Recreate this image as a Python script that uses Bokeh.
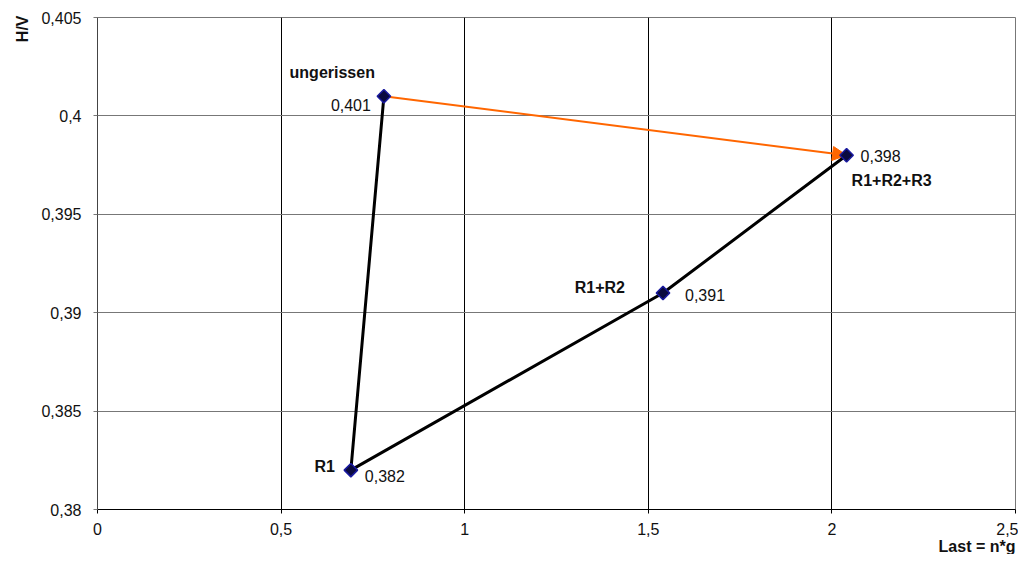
import math
from bokeh.plotting import figure
from bokeh.models import (Range1d, FixedTicker, CustomJSTickFormatter, Label, Arrow,
                          NormalHead, Title)
from bokeh.embed import file_html
from bokeh.resources import INLINE

# ---- data ----
names = ["ungerissen", "R1", "R1+R2", "R1+R2+R3"]
last = [0.78, 0.69, 1.54, 2.04]
hv = [0.401, 0.382, 0.391, 0.398]
x_ticks = [0, 0.5, 1, 1.5, 2, 2.5]
y_ticks = [0.38, 0.385, 0.39, 0.395, 0.4, 0.405]
x_title = "Last = n*g"
y_title = "H/V"

# ---- styles ----
FONT = "Liberation Sans"
FS = "16px"
ORANGE = "#FF6600"
TXT = "#111111"

# label placement per point (screen px offsets), name label and value label
name_pos = [dict(x_offset=-9, y_offset=24, text_align="right"),
            dict(x_offset=-16, y_offset=4, text_align="right"),
            dict(x_offset=-38, y_offset=6, text_align="right"),
            dict(x_offset=5, y_offset=-25, text_align="left")]
value_pos = [dict(x_offset=-13, y_offset=-9, text_align="right"),
             dict(x_offset=14, y_offset=-6, text_align="left"),
             dict(x_offset=22, y_offset=-2, text_align="left"),
             dict(x_offset=14, y_offset=-1, text_align="left")]

p = figure(width=1018, height=554, output_backend="svg", toolbar_location=None,
           x_range=Range1d(x_ticks[0], x_ticks[-1]),
           y_range=Range1d(y_ticks[0], y_ticks[-1]),
           min_border_left=97, min_border_right=3, min_border_top=17, min_border_bottom=45,
           background_fill_color="white", border_fill_color="white")

p.outline_line_color = "#777777"
p.outline_line_width = 1

fmt = CustomJSTickFormatter(code="return String(tick).replace('.', ',');")
for ax, ticks in ((p.xaxis[0], x_ticks), (p.yaxis[0], y_ticks)):
    ax.ticker = FixedTicker(ticks=ticks)
    ax.formatter = fmt
    ax.major_label_text_font = FONT
    ax.major_label_text_font_size = FS
    ax.major_label_text_color = TXT
    ax.minor_tick_line_color = None
    ax.major_tick_in = 0
    ax.major_tick_out = 4
p.xaxis.major_label_standoff = 9
p.yaxis.major_label_standoff = 12
p.xaxis.axis_line_color = "black"
p.xaxis.major_tick_line_color = "black"
p.yaxis.axis_line_color = "#444444"
p.yaxis.major_tick_line_color = "#777777"

p.xgrid.ticker = FixedTicker(ticks=x_ticks)
p.ygrid.ticker = FixedTicker(ticks=y_ticks)
p.xgrid.grid_line_color = "black"
p.ygrid.grid_line_color = "#777777"
p.grid.grid_line_width = 1

# axis titles: y title at the top of the left side, x title at the right of the bottom
p.add_layout(Title(text=y_title, align="right", text_font=FONT, text_font_size=FS,
                   text_font_style="bold", text_color=TXT, standoff=15, offset=-2), "left")
p.add_layout(Title(text=x_title, align="right", text_font=FONT, text_font_size=FS,
                   text_font_style="bold", text_color=TXT, standoff=-4), "below")

# orange arrow from first to last point
arrow = Arrow(end=NormalHead(size=14, fill_color=ORANGE, line_color=ORANGE),
              x_start=last[0], y_start=hv[0], x_end=last[3], y_end=hv[3],
              line_color=ORANGE, line_width=2, level="underlay")
p.add_layout(arrow)

p.line(last, hv, line_color="black", line_width=3)
p.scatter(last, hv, marker="square", size=9.5, angle=math.pi / 4,
          fill_color="#0a0a40", line_color="#1a1aa0", line_width=1.5)

for i in range(len(names)):
    p.add_layout(Label(x=last[i], y=hv[i], text=names[i], text_font=FONT,
                       text_font_size=FS, text_font_style="bold", text_color=TXT,
                       text_baseline="middle", **name_pos[i]))
    p.add_layout(Label(x=last[i], y=hv[i], text=f"{hv[i]:.3f}".replace(".", ","),
                       text_font=FONT, text_font_size=FS, text_color=TXT,
                       text_baseline="middle", **value_pos[i]))

open("out.html", "w").write(file_html(p, INLINE))
